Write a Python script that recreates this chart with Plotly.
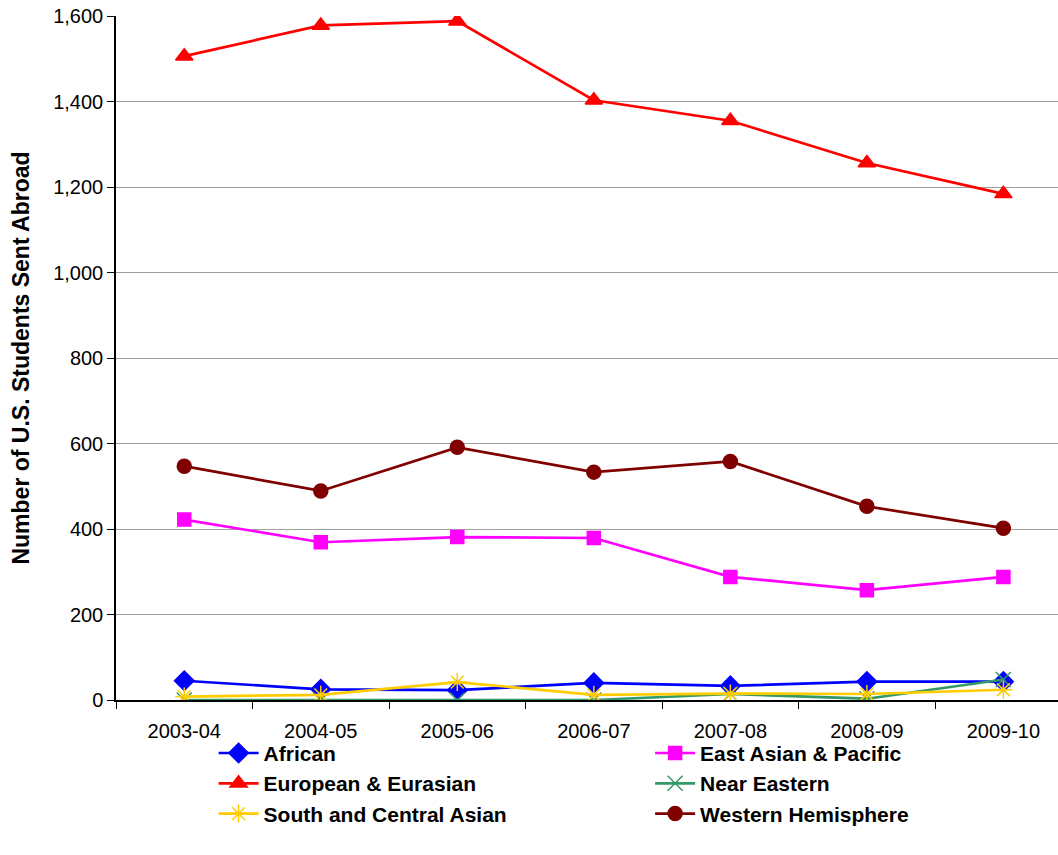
import plotly.graph_objects as go

years = ["2003-04", "2004-05", "2005-06", "2006-07", "2007-08", "2008-09", "2009-10"]

african = [45, 25, 23, 40, 33, 43, 43]
east_asian = [422, 369, 381, 379, 288, 257, 288]
european = [1506, 1578, 1588, 1403, 1355, 1256, 1184]
near_eastern = [0, 0, 0, 0, 14, 3, 48]
south_central = [8, 12, 42, 12, 15, 14, 24]
western = [547, 489, 591, 533, 558, 453, 402]

series = [
    ("African", african, "#0000FF", "diamond", 15, "legend"),
    ("East Asian & Pacific", east_asian, "#FF00FF", "square", 13, "legend2"),
    ("European & Eurasian", european, "#FF0000", "triangle-up", 15, "legend"),
    ("Near Eastern", near_eastern, "#339966", "x-thin-open", 15, "legend2"),
    ("South and Central Asian", south_central, "#FFCC00", "asterisk-open", 15, "legend"),
    ("Western Hemisphere", western, "#800000", "circle", 14, "legend2"),
]

fig = go.Figure()
for name, vals, color, sym, size, leg in series:
    fig.add_trace(go.Scatter(
        x=years, y=vals, name=name, mode="lines+markers",
        line=dict(color=color, width=2.7),
        marker=dict(symbol=sym, size=size, color=color,
                    line=dict(color=color, width=1.5)),
        legend=leg,
    ))

font = dict(family="Liberation Sans, Arial, sans-serif", size=20, color="black")
legfont = dict(family="Liberation Sans, Arial, sans-serif", size=21, color="black", weight="bold")

fig.update_layout(
    width=1058, height=855,
    margin=dict(l=116, r=0, t=16, b=155),
    paper_bgcolor="white", plot_bgcolor="white",
    font=font,
    xaxis=dict(
        type="category", range=[-0.5, 6.4], automargin=False,
        showgrid=False, showline=True, linecolor="black", linewidth=1.5,
        ticks="outside", tickson="boundaries", ticklen=7, tickcolor="black",
        tickfont=dict(size=20), zeroline=False, ticklabelstandoff=12,
    ),
    yaxis=dict(
        range=[0, 1600], dtick=200, tickformat=",", automargin=False,
        showgrid=True, gridcolor="#A0A0A0", gridwidth=1,
        showline=True, linecolor="black", linewidth=1.5,
        ticks="outside", ticklen=7, tickcolor="black",
        tickfont=dict(size=20), zeroline=False,
        title=dict(text="Number of U.S. Students Sent Abroad",
                   font=dict(size=23, weight="bold"), standoff=17),
    ),
    legend=dict(x=0.1036, y=-0.048, xanchor="left", yanchor="top",
                font=legfont, bgcolor="rgba(0,0,0,0)", itemwidth=40,
                tracegroupgap=0),
    legend2=dict(x=0.567, y=-0.048, xanchor="left", yanchor="top",
                 font=legfont, bgcolor="rgba(0,0,0,0)", itemwidth=40,
                 tracegroupgap=0),
)

fig.write_html("out.html", config={"displayModeBar": False},
               post_script="document.body.style.margin='0';document.body.style.overflow='hidden';")
